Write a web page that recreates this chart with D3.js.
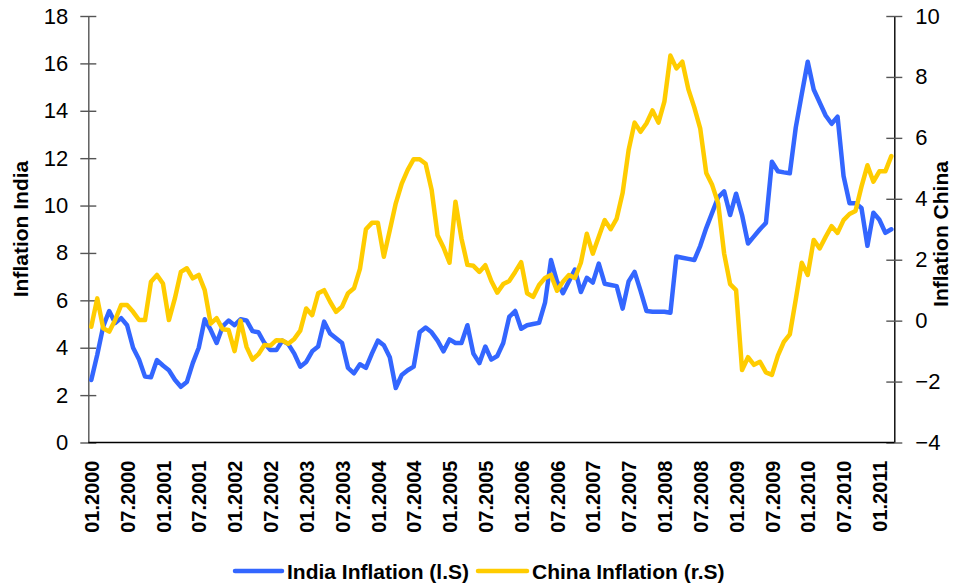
<!DOCTYPE html>
<html>
<head>
<meta charset="utf-8">
<script src="https://cdn.jsdelivr.net/npm/d3@7/dist/d3.min.js"></script>
<style>
  html, body { margin: 0; padding: 0; background: #fff; }
  svg { display: block; font-family: "Liberation Sans", Arial, sans-serif; }
</style>
</head>
<body>
<svg id="chart" width="954" height="586"></svg>
<script>
// Monthly inflation, India (left scale) and China (right scale), 01.2000 – 03.2011
const indiaInflation = [
  2.64, 3.7, 4.9, 5.55, 5.04, 5.25, 4.95, 4.0, 3.5, 2.78, 2.75, 3.48,
  3.25, 3.05, 2.65, 2.35, 2.55, 3.35, 4.0, 5.2, 4.75, 4.2, 4.9, 5.15,
  4.95, 5.2, 5.15, 4.7, 4.65, 4.2, 3.9, 3.9, 4.3, 4.15, 3.75, 3.2,
  3.4, 3.85, 4.05, 5.1, 4.6, 4.4, 4.2, 3.15, 2.92, 3.3, 3.15, 3.75,
  4.3, 4.1, 3.6, 2.3, 2.85, 3.05, 3.2, 4.65, 4.85, 4.65, 4.3, 3.85,
  4.35, 4.2, 4.2, 4.95, 3.75, 3.35, 4.05, 3.5, 3.65, 4.2, 5.3, 5.55,
  4.8, 4.95, 5.0, 5.05, 5.9, 7.7, 6.8, 6.3, 6.8, 7.3, 6.35, 6.95,
  6.75, 7.55, 6.7, 6.65, 6.6, 5.65, 6.8, 7.2, 6.4, 5.55, 5.52, 5.52,
  5.52, 5.48, 7.85, 7.8, 7.75, 7.7, 8.3, 9.05, 9.7, 10.35, 10.6, 9.6,
  10.5, 9.6, 8.4, 8.7, 9.0, 9.27, 11.85, 11.45, 11.4, 11.36, 13.3, 14.7,
  16.07, 14.9, 14.35, 13.8, 13.45, 13.75, 11.25, 10.1, 10.1, 9.9, 8.3, 9.7,
  9.4, 8.85, 9.0
];

const chinaInflation = [
  -0.2, 0.73, -0.25, -0.36, 0.02, 0.51, 0.51, 0.29, 0.02, 0.02, 1.28, 1.5,
  1.22, 0.02, 0.73, 1.6, 1.72, 1.39, 1.5, 1.0, -0.1, 0.08, -0.28, -0.31,
  -1.0, 0.0, -0.86, -1.28, -1.1, -0.8, -0.82, -0.64, -0.65, -0.76, -0.6, -0.33,
  0.4, 0.18, 0.9, 1.0, 0.62, 0.29, 0.46, 0.9, 1.06, 1.7, 3.0, 3.21,
  3.21, 2.1, 2.97, 3.85, 4.5, 4.95, 5.3, 5.3, 5.15, 4.3, 2.8, 2.4,
  1.9, 3.9, 2.7, 1.83, 1.8, 1.6, 1.82, 1.3, 0.92, 1.2, 1.3, 1.6,
  1.92, 0.9, 0.78, 1.17, 1.4, 1.5, 0.98, 1.28, 1.5, 1.4, 1.9, 2.85,
  2.2, 2.75, 3.3, 3.0, 3.35, 4.2, 5.6, 6.5, 6.2, 6.48, 6.9, 6.5,
  7.2, 8.7, 8.28, 8.5, 7.6, 7.0, 6.3, 4.85, 4.45, 3.85, 2.2, 1.2,
  1.0, -1.62, -1.2, -1.45, -1.35, -1.7, -1.78, -1.15, -0.7, -0.45, 0.7, 1.9,
  1.5, 2.65, 2.37, 2.75, 3.1, 2.88, 3.3, 3.5, 3.6, 4.4, 5.1, 4.56,
  4.9, 4.9, 5.4
];

// Month categories "MM.YYYY"
const months = [];
for (let y = 2000; months.length < indiaInflation.length; y++) {
  for (let m = 1; m <= 12 && months.length < indiaInflation.length; m++) {
    months.push(String(m).padStart(2, "0") + "." + y);
  }
}

const xTickLabels = [
  "01.2000", "07.2000", "01.2001", "07.2001", "01.2002", "07.2002",
  "01.2003", "07.2003", "01.2004", "07.2004", "01.2005", "07.2005",
  "01.2006", "07.2006", "01.2007", "07.2007", "01.2008", "07.2008",
  "01.2009", "07.2009", "01.2010", "07.2010", "01.2011"
];
const leftTicks = [0, 2, 4, 6, 8, 10, 12, 14, 16, 18];
const rightTicks = [-4, -2, 0, 2, 4, 6, 8, 10];

const seriesNames = ["India Inflation (l.S)", "China Inflation (r.S)"];
const seriesColors = ["#3366FF", "#FFCC00"];

const plot = { left: 88.3, right: 894.3, top: 16, bottom: 442.5 };

const svg = d3.select("#chart");

const x = d3.scalePoint().domain(months).range([plot.left, plot.right]).padding(0.5);
const yLeft = d3.scaleLinear().domain([0, 18]).range([plot.bottom, plot.top]);
const yRight = d3.scaleLinear().domain([-4, 10]).range([plot.bottom, plot.top]);

// Left axis
const gLeft = svg.append("g")
  .attr("transform", `translate(${plot.left},0)`)
  .call(d3.axisLeft(yLeft).tickValues(leftTicks).tickSize(8).tickPadding(12).tickSizeOuter(0));
gLeft.select(".domain").attr("stroke", "#555").attr("stroke-width", 1.4);
gLeft.selectAll(".tick line").attr("x1", -8).attr("x2", 8).attr("stroke", "#555").attr("stroke-width", 1.4);
gLeft.selectAll(".tick text").attr("font-size", 22).attr("fill", "#000")
  .attr("font-family", "'Liberation Sans', Arial, sans-serif");

// Right axis
const gRight = svg.append("g")
  .attr("transform", `translate(${plot.right},0)`)
  .call(d3.axisRight(yRight).tickValues(rightTicks).tickSize(8).tickPadding(13).tickSizeOuter(0));
gRight.select(".domain").attr("stroke", "#000").attr("stroke-width", 1.4);
gRight.selectAll(".tick line").attr("x1", -8).attr("x2", 8).attr("stroke", "#555").attr("stroke-width", 1.4);
gRight.selectAll(".tick text").attr("font-size", 22).attr("fill", "#000")
  .attr("font-family", "'Liberation Sans', Arial, sans-serif");

// Bottom axis with rotated month labels
const gBottom = svg.append("g")
  .attr("transform", `translate(0,${plot.bottom})`)
  .call(d3.axisBottom(x).tickValues(xTickLabels).tickSize(0).tickSizeOuter(0));
gBottom.select(".domain").attr("stroke", "#000").attr("stroke-width", 1.4)
  .attr("d", `M${plot.left},0H${plot.right}`);
gBottom.selectAll(".tick text")
  .attr("font-size", 20).attr("font-weight", "bold").attr("fill", "#000")
  .attr("font-family", "'Liberation Sans', Arial, sans-serif")
  .attr("text-anchor", "end")
  .attr("transform", "rotate(-90)")
  .attr("x", -18).attr("y", 0).attr("dy", "0.36em");

// Axis titles
svg.append("text")
  .attr("transform", "translate(20,229) rotate(-90)")
  .attr("text-anchor", "middle").attr("dy", "0.36em")
  .attr("font-size", 21).attr("font-weight", "bold")
  .text("Inflation India");
svg.append("text")
  .attr("transform", "translate(940,234) rotate(-90)")
  .attr("text-anchor", "middle").attr("dy", "0.36em")
  .attr("font-size", 21).attr("font-weight", "bold")
  .text("Inflation China");

// Lines
const lineIndia = d3.line().x((d, i) => x(months[i])).y(d => yLeft(d));
const lineChina = d3.line().x((d, i) => x(months[i])).y(d => yRight(d));

svg.append("path").datum(indiaInflation)
  .attr("fill", "none").attr("stroke", seriesColors[0]).attr("stroke-width", 4.5)
  .attr("stroke-linejoin", "round").attr("stroke-linecap", "round")
  .attr("d", lineIndia);
svg.append("path").datum(chinaInflation)
  .attr("fill", "none").attr("stroke", seriesColors[1]).attr("stroke-width", 4.5)
  .attr("stroke-linejoin", "round").attr("stroke-linecap", "round")
  .attr("d", lineChina);

// Legend
const legendItems = [
  { x0: 235, x1: 282, tx: 287 },
  { x0: 478, x1: 527, tx: 532 }
];
const legend = svg.append("g");
legendItems.forEach((it, i) => {
  legend.append("line")
    .attr("x1", it.x0).attr("x2", it.x1).attr("y1", 571).attr("y2", 571)
    .attr("stroke", seriesColors[i]).attr("stroke-width", 4.5).attr("stroke-linecap", "round");
  legend.append("text")
    .attr("x", it.tx).attr("y", 571).attr("dy", "0.36em")
    .attr("font-size", 21).attr("font-weight", "bold")
    .text(seriesNames[i]);
});
</script>
</body>
</html>
